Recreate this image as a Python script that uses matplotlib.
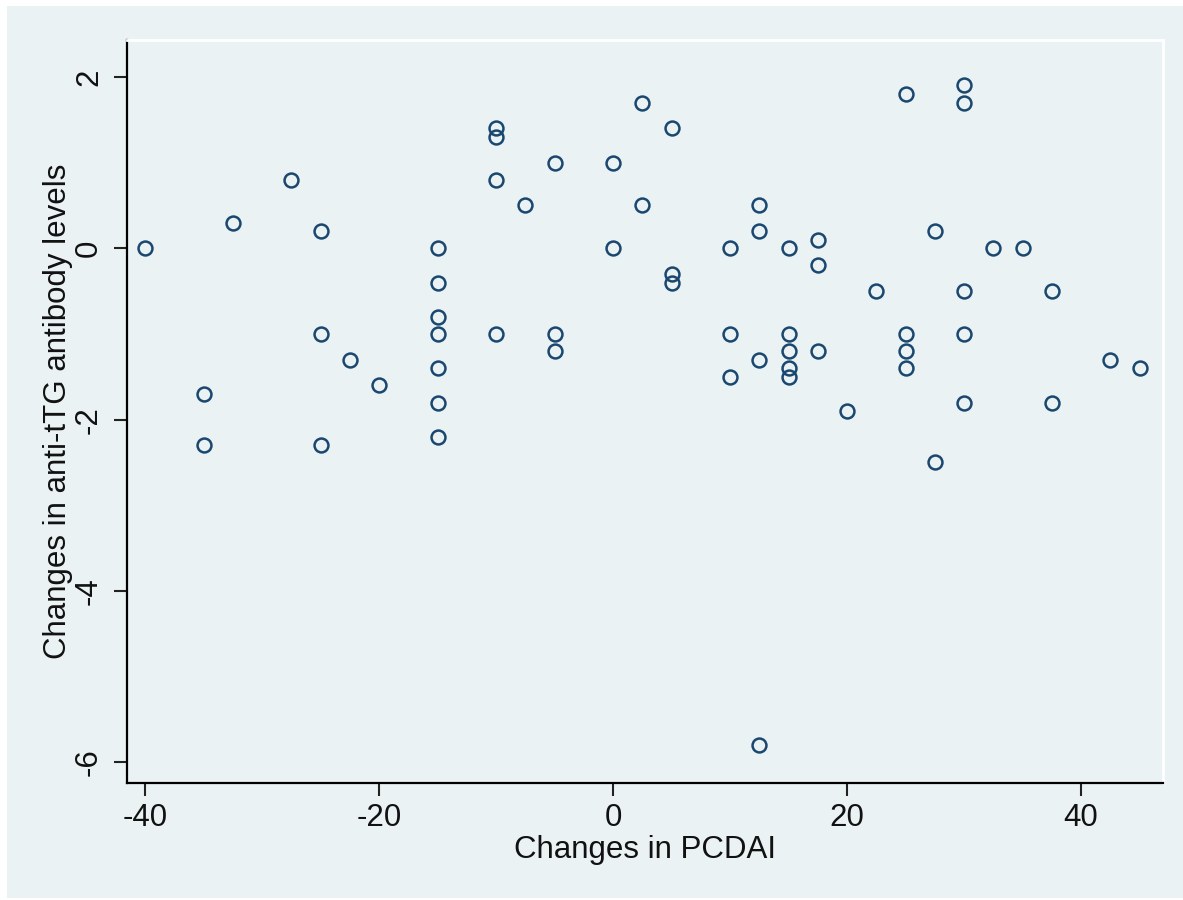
import matplotlib
matplotlib.use("Agg")
import matplotlib.pyplot as plt
from matplotlib.patches import Rectangle

plt.rcParams['font.family'] = ['Liberation Sans', 'DejaVu Sans']

# Changes in PCDAI (x) and changes in anti-tTG antibody levels (y)
pcdai = [-40, -32.5, -27.5, -35, -35, -25, -25, -25, -22.5, -20,
         -15, -15, -15, -15, -15, -15, -15,
         -10, -10, -10, -10, -7.5,
         -5, -5, -5, 0, 0, 2.5, 2.5, 5, 5, 5,
         10, 10, 10, 12.5, 12.5, 12.5, 12.5,
         15, 15, 15, 15, 15, 17.5, 17.5, 17.5,
         20, 22.5, 25, 25, 25, 25, 27.5, 27.5,
         30, 30, 30, 30, 30, 32.5, 35, 37.5, 37.5, 42.5, 45]
ttg = [0, 0.3, 0.8, -1.7, -2.3, 0.2, -1.0, -2.3, -1.3, -1.6,
       0, -0.4, -0.8, -1.0, -1.4, -1.8, -2.2,
       1.4, 1.3, 0.8, -1.0, 0.5,
       1.0, -1.0, -1.2, 1.0, 0, 1.7, 0.5, 1.4, -0.3, -0.4,
       0, -1.0, -1.5, 0.5, 0.2, -1.3, -5.8,
       0, -1.0, -1.2, -1.4, -1.5, 0.1, -0.2, -1.2,
       -1.9, -0.5, 1.8, -1.0, -1.2, -1.4, 0.2, -2.5,
       1.9, 1.7, -0.5, -1.0, -1.8, 0, 0, -0.5, -1.8, -1.3, -1.4]

x_ticks = [-40, -20, 0, 20, 40]
y_ticks = [-6, -4, -2, 0, 2]
x_label = "Changes in PCDAI"
y_label = "Changes in anti-tTG antibody levels"

W, H = 1183, 900
bg = '#EAF2F3'
navy = '#1A476F'
fs = 22.5

fig = plt.figure(figsize=(W / 100, H / 100), dpi=100, facecolor='white')
bgrect = Rectangle((7 / W, 2 / H), 1 - 7 / W, 1 - 8 / H,
                   transform=fig.transFigure, facecolor=bg,
                   edgecolor='none', zorder=-10)
fig.add_artist(bgrect)

ax = fig.add_axes([127 / W, 1 - 783 / H, (1163 - 127) / W, (783 - 40) / H])
ax.set_zorder(1)
ax.set_facecolor(bg)
ax.plot(pcdai, ttg, linestyle='none', marker='o', markersize=10,
        markerfacecolor='none', markeredgecolor=navy, markeredgewidth=1.8,
        clip_on=False)

ax.set_xlim(-41.54, 47.0)
ax.set_ylim(-6.24, 2.43)
ax.set_xticks(x_ticks)
ax.set_yticks(y_ticks)
ax.set_xticklabels([str(v) for v in x_ticks])
ax.set_yticklabels([str(v) for v in y_ticks], rotation=90, va='center')

for s in ['left', 'bottom']:
    ax.spines[s].set_color('black')
    ax.spines[s].set_linewidth(1.6)
for s in ['top', 'right']:
    ax.spines[s].set_color('white')
    ax.spines[s].set_linewidth(2)

ax.tick_params(axis='both', direction='out', length=9.5, width=1.5,
               color='#222222', labelsize=fs, labelcolor='#111111')
ax.tick_params(axis='x', pad=5)
ax.tick_params(axis='y', pad=7)

ax.set_xlabel(x_label, fontsize=fs, color='#111111', labelpad=1)
ax.set_ylabel(y_label, fontsize=fs, color='#111111', labelpad=1)

fig.savefig('out.png', dpi=100, facecolor='white')
